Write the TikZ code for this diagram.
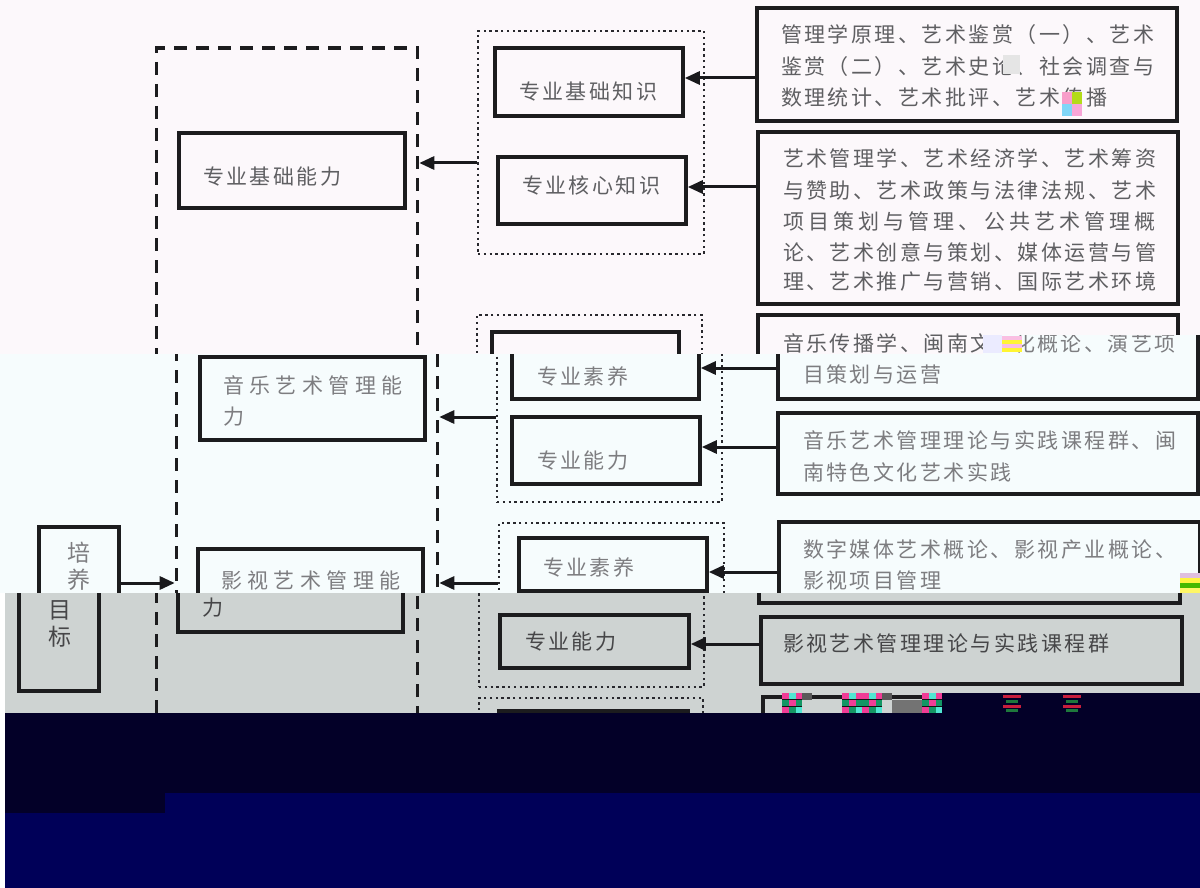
\documentclass[tikz,border=0pt]{standalone}
\usepackage{fontspec}
\newfontfamily\cjkA[LetterSpace=11.8]{Noto Sans CJK SC}
\newfontfamily\cjkJ[LetterSpace=19.7]{Noto Sans CJK SC}
\newfontfamily\cjkW[LetterSpace=26]{Noto Sans CJK SC}
\newfontfamily\cjkN{Noto Sans CJK SC}
\usetikzlibrary{arrows.meta}
\definecolor{bgA}{RGB}{252,248,251}
\definecolor{bgB}{RGB}{246,252,253}
\definecolor{bgC}{RGB}{206,211,210}
\definecolor{navyD}{RGB}{3,0,40}
\definecolor{navyL}{RGB}{0,0,88}
\definecolor{boxc}{RGB}{28,28,30}
\definecolor{dotc}{RGB}{40,40,45}
\definecolor{arrc}{RGB}{25,25,28}
\definecolor{txA}{RGB}{95,95,98}
\definecolor{txB}{RGB}{125,125,128}
\definecolor{txC}{RGB}{70,70,72}
\definecolor{glG}{RGB}{20,150,100}
\definecolor{glM}{RGB}{240,60,150}
\definecolor{glC}{RGB}{80,230,210}
\definecolor{glK}{RGB}{20,20,20}
\definecolor{glR}{RGB}{200,30,60}
\definecolor{glN}{RGB}{30,120,60}
\tikzset{
  box/.style={draw=boxc, line width=3.6pt, inner sep=0pt},
  dashbox/.style={draw=boxc, line width=3.6pt, dash pattern=on 13pt off 9pt, inner sep=0pt},
  dotbox/.style={draw=dotc, line width=2.8pt, dash pattern=on 2.4pt off 3.4pt, inner sep=0pt},
  arr/.style={draw=arrc, line width=3pt, -{Triangle[length=15pt,width=13pt]}},
  tx/.style={anchor=west, inner sep=0pt, outer sep=0pt},
  rtx/.style={tx, font=\cjkA\fontsize{21pt}{21pt}\selectfont},
  rtxj/.style={tx, font=\cjkJ\fontsize{21pt}{21pt}\selectfont},
  wtx/.style={tx, font=\cjkW\fontsize{21pt}{21pt}\selectfont},
  gtx/.style={anchor=center, inner sep=0pt, font=\cjkN\fontsize{23pt}{23pt}\selectfont},
}
% box node: style, name, x1, y1, x2, y2 (pixel coordinates, y downwards)
\newcommand\bxn[6]{\node[#1, minimum width={(#5)-(#3)}, minimum height={(#6)-(#4)}] (#2) at ({((#3)+(#5))/2},{((#4)+(#6))/2}) {};}
\newcommand\diagshapes{%
  \bxn{dashbox}{abil}{156.5}{48}{417.5}{810}
  \bxn{box}{n1}{179}{133}{405}{208}
  \bxn{box}{n2}{180}{357}{405}{440}
  \bxn{box}{n3}{178}{549}{403}{632}
  \bxn{box}{goal}{19}{527}{99}{691}
  \bxn{dotbox}{d1}{478}{31}{704}{254}
  \bxn{dotbox}{d2}{477}{315}{702}{502}
  \bxn{dotbox}{d3}{479}{523}{704}{687}
  \bxn{dotbox}{d4}{479}{698}{703}{820}
  \bxn{box}{k1}{495}{48}{683}{116}
  \bxn{box}{k2}{498}{157}{686}{224}
  \bxn{box}{k3}{492}{332}{679}{399}
  \bxn{box}{k4}{492}{417}{680}{484}
  \bxn{box}{k5}{499}{538}{687}{591}
  \bxn{box}{k6}{500}{615}{689}{668}
  \bxn{box}{k7}{499}{711}{688}{800}
  \bxn{box}{r1}{757}{8}{1177}{121}
  \bxn{box}{r2}{758}{132}{1178}{304}
  \bxn{box}{r3}{758}{315}{1178}{399}
  \bxn{box}{r4}{758}{413}{1178}{494}
  \bxn{box}{r5}{759}{522}{1180}{603}
  \bxn{box}{r6}{761}{617}{1182}{684}
  \bxn{box}{r7}{763}{697}{1183}{800}
  \draw[arr] (r1.west |- 0,78) -- (k1.east |- 0,78);
  \draw[arr] (r2.west |- 0,187) -- (k2.east |- 0,187);
  \draw[arr] (r3.west |- 0,368) -- (k3.east |- 0,368);
  \draw[arr] (r4.west |- 0,447) -- (k4.east |- 0,447);
  \draw[arr] (r5.west |- 0,572) -- (k5.east |- 0,572);
  \draw[arr] (r6.west |- 0,644) -- (k6.east |- 0,644);
  \draw[arr] (d1.west |- 0,163) -- (abil.east |- 0,163);
  \draw[arr] (d2.west |- 0,417) -- (abil.east |- 0,417);
  \draw[arr] (d3.west |- 0,583) -- (abil.east |- 0,583);
  \draw[arr] (goal.east |- 0,583) -- (abil.west |- 0,583);
}
% colourful 20x20 block of a broken image
\newcommand\glbox[2]{%
  \fill[glK] (#1,#2) rectangle ++(20,20);
  \fill[glM] (#1,#2) rectangle ++(7,6);
  \fill[glC] (#1+7,#2) rectangle ++(7,6);
  \fill[glM] (#1+14,#2) rectangle ++(6,6);
  \fill[glG] (#1,#2+7) rectangle ++(7,6);
  \fill[glM] (#1+7,#2+7) rectangle ++(7,6);
  \fill[glG] (#1+14,#2+7) rectangle ++(6,6);
  \fill[glM] (#1,#2+14) rectangle ++(7,6);
  \fill[glG] (#1+7,#2+14) rectangle ++(7,6);
  \fill[glC] (#1+14,#2+14) rectangle ++(6,6);
}
\newcommand\glstripe[2]{%
  \fill[glR] (#1+1,#2+2) rectangle ++(18,3);
  \fill[glN] (#1+4,#2+7) rectangle ++(12,3);
  \fill[glR] (#1+1,#2+12) rectangle ++(18,3);
  \fill[glN] (#1+4,#2+16) rectangle ++(12,3);
}
\begin{document}
\begin{tikzpicture}[x=1pt,y=-1pt]
\useasboundingbox (0,0) rectangle (1200,888);
% ---------- band A ----------
\fill[bgA] (0,0) rectangle (1200,888);
\diagshapes
\begin{scope}[text=txA]
\node[rtx] (r1a) at (781,35) {管理学原理、艺术鉴赏（一）、艺术};
\node[rtx] (r1b) at (781,67) {鉴赏（二）、艺术史论、社会调查与};
\node[rtx] (r1c) at (781,98) {数理统计、艺术批评、艺术传播};
\node[rtx] (r2a) at (783,158) {艺术管理学、艺术经济学、艺术筹资};
\node[rtx] (r2b) at (783,190) {与赞助、艺术政策与法律法规、艺术};
\node[rtxj] (r2c) at (783,222) {项目策划与管理、公共艺术管理概};
\node[rtx] (r2d) at (783,252) {论、艺术创意与策划、媒体运营与管};
\node[rtx] (r2e) at (783,282) {理、艺术推广与营销、国际艺术环境};
\node[rtx] (r3a) at (783,343) {音乐传播学、闽南文};
\node[rtx] (n1t) at (203,177) {专业基础能力};
\node[rtx] (k1t) at (519,92) {专业基础知识};
\node[rtx] (k2t) at (522,185) {专业核心知识};
\end{scope}
\fill[white!80!gray] (1003,55) rectangle (1020,74);
\fill[glM!50] (1062,92) rectangle (1072,104);
\fill[yellow!70!green] (1072,92) rectangle (1082,104);
\fill[cyan!50] (1062,104) rectangle (1072,116);
\fill[magenta!35] (1072,104) rectangle (1082,116);
% ---------- band B (shifted 20 px right) ----------
\fill[bgB] (0,354) -- (983,354) -- (983,335) -- (1200,335) -- (1200,593) -- (0,593) -- cycle;
\begin{scope}
\clip (0,354) -- (983,354) -- (983,335) -- (1200,335) -- (1200,593) -- (0,593) -- cycle;
\begin{scope}[xshift=20pt]
\diagshapes
\end{scope}
\begin{scope}[text=txB]
\node[rtx] (r3b) at (1014,343) {化概论、演艺项};
\node[rtx] (r3c) at (803,375) {目策划与运营};
\node[rtx] (r4a) at (803,440) {音乐艺术管理理论与实践课程群、闽};
\node[rtx] (r4b) at (803,472) {南特色文化艺术实践};
\node[rtx] (r5a) at (803,550) {数字媒体艺术概论、影视产业概论、};
\node[rtx] (r5b) at (803,580) {影视项目管理};
\node[wtx] (n2a) at (223,385) {音乐艺术管理能};
\node[wtx] (n2b) at (223,417) {力};
\node[rtx] (k3t) at (537,376) {专业素养};
\node[rtx] (k4t) at (537,461) {专业能力};
\node[rtx] (k5t) at (543,567) {专业素养};
\node[wtx] (n3a) at (221,580) {影视艺术管理能};
\node[gtx] (g1) at (79,553) {培};
\node[gtx] (g2) at (79,580) {养};
\end{scope}
\fill[blue!8] (983,335) rectangle (1002,353);
\fill[magenta!25] (1002,336) rectangle (1022,340);
\fill[yellow!80] (1002,340) rectangle (1022,344);
\fill[magenta!25] (1002,344) rectangle (1022,348);
\fill[yellow!80] (1002,348) rectangle (1022,352);
\fill[violet!25] (1180,573) rectangle (1200,578);
\fill[yellow!75] (1180,578) rectangle (1200,583);
\fill[green!45!olive] (1180,583) rectangle (1200,588);
\fill[yellow!60] (1180,588) rectangle (1200,593);
\end{scope}
% ---------- band C ----------
\fill[bgC] (5,593) rectangle (1200,713);
\begin{scope}
\clip (5,593) rectangle (1200,713);
\diagshapes
\begin{scope}[text=txC]
\node[wtx] (n3b) at (202,608) {力};
\node[gtx] (g3) at (60,610) {目};
\node[gtx] (g4) at (60,637) {标};
\node[rtx] (k6t) at (525,642) {专业能力};
\node[rtx] (r6t) at (783,643) {影视艺术管理理论与实践课程群};
\end{scope}
\glbox{782}{693}
\fill[gray!70!black] (802,693) rectangle (812,700);
\glbox{842}{693}
\glbox{862}{693}
\fill[gray!70!black] (882,693) rectangle (892,700);
\fill[gray!90!black] (892,700) rectangle (922,713);
\glbox{922}{693}
\end{scope}
% ---------- dark lower band ----------
\fill[white] (0,593) rectangle (5,888);
\fill[navyD] (942,693) rectangle (1200,713);
\fill[navyD] (5,713) rectangle (1200,793);
\fill[navyD] (5,793) rectangle (165,813);
\fill[navyL] (165,793) rectangle (1200,888);
\fill[navyL] (5,813) rectangle (165,888);
\glstripe{1002}{693}
\glstripe{1062}{693}
\end{tikzpicture}
\end{document}
